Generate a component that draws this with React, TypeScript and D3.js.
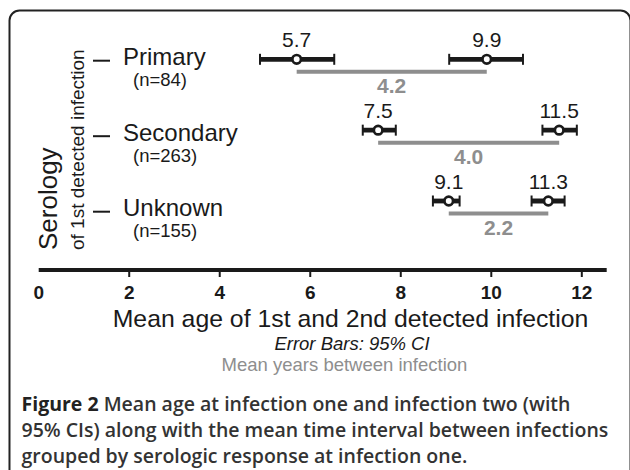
import React from "react";
import * as d3 from "d3";

const categories = ["Primary", "Secondary", "Unknown"];
const counts = ["(n=84)", "(n=263)", "(n=155)"];
const firstMean = [5.7, 7.5, 9.06];
const firstLow = [4.89, 7.16, 8.71];
const firstHigh = [6.53, 7.89, 9.3];
const secondMean = [9.9, 11.5, 11.26];
const secondLow = [9.07, 11.13, 10.89];
const secondHigh = [10.7, 11.89, 11.62];
const xTickValues = [0, 2, 4, 6, 8, 10, 12];
const captionLines = [
  "Mean age at infection one and infection two (with",
  "95% CIs) along with the mean time interval between infections",
  "grouped by serologic response at infection one.",
];

const W = 630;
const H = 470;
const FONT = "'Liberation Sans', Arial, Helvetica, sans-serif";
const CAP_FONT = "'Open Sans', 'Noto Sans', sans-serif";
const GRAY = "#8e8e8e";
const INK = "#1a1a1a";

export default function App() {
  const x = d3.scaleLinear().domain([0, 12.55]).range([38.7, 606.7]);
  const yLabel = d3.scalePoint<string>().domain(categories).range([60.7, 211.7]);
  const yMark = d3.scalePoint<string>().domain(categories).range([59.3, 201]);
  const fmt = d3.format(".1f");
  const axisY = 270;

  const errorBar = (lo: number, hi: number, m: number, y: number, key: string) => (
    <g key={key}>
      <line x1={x(lo)} x2={x(hi)} y1={y} y2={y} stroke={INK} strokeWidth={4.8} />
      <line x1={x(lo)} x2={x(lo)} y1={y - 5.5} y2={y + 5.5} stroke={INK} strokeWidth={2} />
      <line x1={x(hi)} x2={x(hi)} y1={y - 5.5} y2={y + 5.5} stroke={INK} strokeWidth={2} />
      <circle cx={x(m)} cy={y} r={4.3} fill="#fff" stroke={INK} strokeWidth={2.7} />
    </g>
  );

  return (
    <svg
      width={W}
      height={H}
      style={{ position: "absolute", left: 0, top: 0, background: "#fff" }}
      fontFamily={FONT}
    >
      <rect x={9.5} y={10.5} width={621} height={490} rx={10} ry={10} fill="none" stroke="#222" strokeWidth={2} />

      {/* y-axis titles */}
      <text transform="translate(57,250) rotate(-90)" fontSize={26} fill={INK}>Serology</text>
      <text transform="translate(84,250) rotate(-90)" fontSize={19} fill={INK}>of 1st detected infection</text>

      {/* category labels */}
      {categories.map((c, i) => (
        <g key={c}>
          <line x1={93} x2={110} y1={yLabel(c)} y2={yLabel(c)} stroke={INK} strokeWidth={2} />
          <text x={123} y={(yLabel(c) as number) + 4.5} fontSize={24} fill={INK}>{c}</text>
          <text x={133} y={(yLabel(c) as number) + 25.5} fontSize={18.5} fill={INK}>{counts[i]}</text>
        </g>
      ))}

      {/* marks */}
      {categories.map((c, i) => {
        const y = yMark(c) as number;
        const gy = y + 12.5;
        return (
          <g key={c}>
            <line x1={x(firstMean[i])} x2={x(secondMean[i])} y1={gy} y2={gy} stroke={GRAY} strokeWidth={4} />
            <text x={(x(firstMean[i]) + x(secondMean[i])) / 2} y={gy + 21.5} textAnchor="middle" fontSize={21} fontWeight="bold" fill={GRAY}>
              {fmt(secondMean[i] - firstMean[i])}
            </text>
            {errorBar(firstLow[i], firstHigh[i], firstMean[i], y, "a")}
            {errorBar(secondLow[i], secondHigh[i], secondMean[i], y, "b")}
            <text x={x(firstMean[i])} y={y - 12.5} textAnchor="middle" fontSize={21} fill={INK}>{fmt(firstMean[i])}</text>
            <text x={x(secondMean[i])} y={y - 12.5} textAnchor="middle" fontSize={21} fill={INK}>{fmt(secondMean[i])}</text>
          </g>
        );
      })}

      {/* x axis */}
      <line x1={x(0)} x2={x(12.55)} y1={axisY} y2={axisY} stroke={INK} strokeWidth={4} />
      {xTickValues.map((t) => (
        <g key={t}>
          {t > 0 && <line x1={x(t)} x2={x(t)} y1={axisY} y2={axisY + 7} stroke={INK} strokeWidth={2} />}
          <text x={x(t)} y={298.5} textAnchor="middle" fontSize={19} fontWeight="bold" fill={INK}>{t}</text>
        </g>
      ))}

      <text x={350.5} y={326.7} textAnchor="middle" fontSize={24.8} fill={INK}>Mean age of 1st and 2nd detected infection</text>
      <text x={352} y={350} textAnchor="middle" fontSize={18.5} fontStyle="italic" fill={INK}>Error Bars: 95% CI</text>
      <text x={344.5} y={371} textAnchor="middle" fontSize={18.5} fill={GRAY}>Mean years between infection</text>

      {/* caption */}
      <g fontFamily={CAP_FONT} fontSize={19.5} fill="#333" fontWeight={600}>
        <text x={21.5} y={410.5}>
          <tspan fontWeight={700} fill="#222">Figure 2</tspan> {captionLines[0]}
        </text>
        <text x={21.5} y={436.5}>{captionLines[1]}</text>
        <text x={21.5} y={462.5}>{captionLines[2]}</text>
      </g>
    </svg>
  );
}
